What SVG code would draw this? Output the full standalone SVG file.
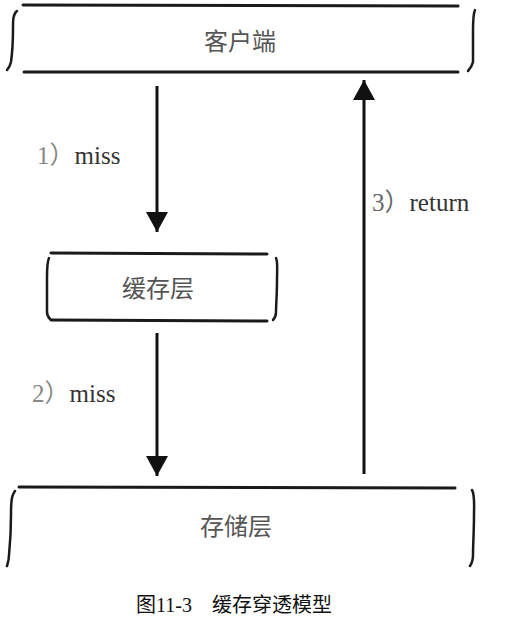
<svg xmlns="http://www.w3.org/2000/svg" width="507" height="628" viewBox="0 0 507 628">
<style>
.ln{stroke:#1a1a1a;stroke-width:3;fill:none;stroke-linecap:round}
.br{stroke:#1a1a1a;stroke-width:2.5;fill:none;stroke-linecap:round}
.nt{font-family:"Noto Sans CJK SC","Noto Sans CJK JP",sans-serif;font-size:24px;fill:#555;text-anchor:middle}
.lb{font-size:25px;fill:#333}
.cap{font-size:20px;fill:#111}
.ar{stroke:#111;stroke-width:3;fill:none}
</style>
<defs>
<marker id="ahb" markerWidth="20" markerHeight="22" refX="20" refY="11" orient="auto" markerUnits="userSpaceOnUse" viewBox="0 0 20 22">
<path d="M0,0 L20,11 L0,22 z" fill="#111"/>
</marker>
</defs>
<g id="client">
<path class="ln" d="M23,5 L458,6"/>
<path class="ln" d="M24,72 L458,72"/>
<path class="br" d="M17,11 C13,14 13,20 13,28 C13,40 12,55 11,62 C10,66 9,68 7,70"/>
<path class="br" d="M475,10 C473,14 473,22 473,32 C473,45 473,56 473,62 C472,66 471,68 468,71"/>
<text class="nt" x="240" y="50">客户端</text>
</g>
<g id="cache">
<path class="ln" d="M51,253 L267,254"/>
<path class="ln" d="M51,320 L267,321"/>
<path class="br" d="M49,258 C47,262 47,268 47,278 C47,292 47,304 47,312 C47,315 48,317 50,319"/>
<path class="br" d="M276,258 C278,262 277,270 277,280 C277,294 276,306 276,312 C276,315 275,318 273,320"/>
<text class="nt" x="158" y="297">缓存层</text>
</g>
<g id="storage">
<path class="ln" d="M19,487 L455,488"/>
<path class="br" d="M15,491 C11,496 11,505 11,515 C11,530 10,545 9,555 C9,560 8,563 7,566"/>
<path class="br" d="M472,490 C475,495 474,505 474,515 C474,530 473,545 473,555 C473,560 472,563 470,566"/>
<text class="nt" x="236" y="535">存储层</text>
</g>
<g id="connectors">
<line class="ar" x1="157" y1="86" x2="157" y2="232" marker-end="url(#ahb)"/>
<line class="ar" x1="157" y1="333" x2="157" y2="476" marker-end="url(#ahb)"/>
<line class="ar" x1="364" y1="474" x2="364" y2="80" marker-end="url(#ahb)"/>
<text class="lb" font-family="'Liberation Serif', 'DejaVu Serif', serif" x="37" y="164"><tspan fill="#888">1</tspan><tspan fill="#888" font-family="'Noto Sans CJK SC', sans-serif">）</tspan>miss</text>
<text class="lb" font-family="'Liberation Serif', 'DejaVu Serif', serif" x="32" y="402"><tspan fill="#888">2</tspan><tspan fill="#888" font-family="'Noto Sans CJK SC', sans-serif">）</tspan>miss</text>
<text class="lb" font-family="'Liberation Serif', 'DejaVu Serif', serif" x="372" y="211"><tspan fill="#666">3</tspan><tspan fill="#666" font-family="'Noto Sans CJK SC', sans-serif">）</tspan>return</text>
</g>
<text class="cap" font-family="'Liberation Serif', serif" x="136" y="612"><tspan font-family="'Noto Sans CJK SC', sans-serif">图</tspan>11-3<tspan font-family="'Noto Sans CJK SC', sans-serif">　缓存穿透模型</tspan></text>
</svg>
